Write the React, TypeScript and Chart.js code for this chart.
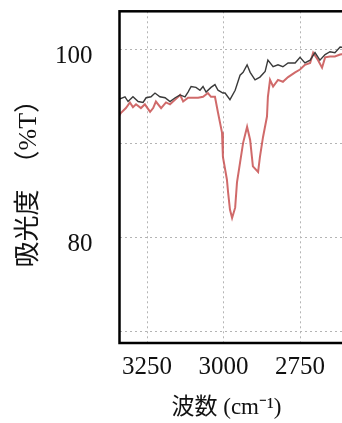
import React, { useEffect, useRef } from "react";
import { Chart, registerables } from "chart.js";

Chart.register(...registerables);

// Wavenumber (cm-1) and transmittance (%T)
const blackWavenumbers = [3345, 3322, 3312, 3296, 3279, 3263, 3253, 3237, 3224, 3208, 3191, 3175, 3158, 3142, 3126, 3116, 3106, 3090, 3077, 3067, 3057, 3041, 3028, 3018, 3002, 2995, 2979, 2962, 2946, 2936, 2923, 2913, 2897, 2881, 2864, 2855, 2838, 2822, 2806, 2789, 2766, 2750, 2734, 2717, 2701, 2685, 2668, 2652, 2636, 2619, 2600];
const blackValues = [94.7, 95.0, 94.5, 95.0, 94.5, 94.4, 94.9, 95.0, 95.4, 95.0, 94.9, 94.5, 94.9, 95.2, 95.0, 95.5, 96.1, 96.0, 95.7, 96.1, 95.5, 96.0, 96.3, 95.7, 95.4, 95.4, 94.7, 95.7, 97.3, 97.6, 98.4, 97.6, 96.8, 97.1, 97.7, 98.9, 98.2, 98.4, 98.2, 98.6, 98.6, 99.2, 98.6, 98.9, 99.7, 98.9, 99.5, 99.8, 99.7, 100.3, 100.2];

const redWavenumbers = [3345, 3335, 3319, 3306, 3296, 3286, 3270, 3257, 3240, 3230, 3221, 3204, 3188, 3175, 3158, 3142, 3132, 3116, 3100, 3083, 3067, 3051, 3041, 3028, 3018, 3005, 3002, 2989, 2985, 2979, 2972, 2962, 2956, 2946, 2936, 2923, 2913, 2904, 2887, 2881, 2871, 2858, 2855, 2848, 2838, 2822, 2806, 2789, 2766, 2750, 2734, 2717, 2707, 2691, 2678, 2668, 2652, 2636, 2619, 2600];
const redValues = [92.8, 93.3, 93.8, 94.4, 93.9, 94.2, 93.8, 94.2, 93.4, 93.8, 94.5, 93.8, 94.4, 94.2, 94.7, 95.2, 94.5, 94.9, 94.9, 94.9, 95.0, 95.4, 95.0, 95.0, 93.3, 91.2, 88.6, 86.2, 84.8, 83.0, 82.1, 83.2, 85.9, 88.0, 90.1, 91.8, 90.4, 87.6, 87.0, 88.6, 90.7, 92.9, 95.0, 96.8, 96.1, 96.8, 96.6, 97.1, 97.6, 97.9, 98.4, 98.6, 99.7, 98.9, 98.1, 99.2, 99.3, 99.3, 99.5, 99.6];

const xTicks = [2750, 3000, 3250];
const yGrid = [70, 80, 90, 100];
const yLabels = [80, 100];

const xTitle = "波数 (cm⁻¹)\u2002";
const yTitle = "吸光度　（%T）";

const FONT = "'Liberation Serif', 'Noto Sans CJK JP', serif";

const framePlugin = {
  id: "frame",
  afterDraw(chart: any) {
    const { ctx, chartArea } = chart;
    ctx.save();
    ctx.strokeStyle = "#000";
    ctx.lineWidth = 2.5;
    ctx.strokeRect(chartArea.left, chartArea.top, chartArea.right - chartArea.left, chartArea.bottom - chartArea.top);
    ctx.restore();
  },
};

const bgPlugin = {
  id: "bg",
  beforeDraw(chart: any) {
    const { ctx } = chart;
    ctx.save();
    ctx.fillStyle = "#fff";
    ctx.fillRect(0, 0, chart.width, chart.height);
    ctx.restore();
  },
};

const noPad = (s: any) => {
  s.paddingTop = 0;
  s.paddingBottom = 0;
  s.paddingLeft = 0;
  s.paddingRight = 0;
};

export default function App() {
  const ref = useRef<HTMLCanvasElement>(null);
  useEffect(() => {
    if (!ref.current) return;
    const chart = new Chart(ref.current, {
      type: "line",
      data: {
        datasets: [
          {
            label: "sample",
            data: blackWavenumbers.map((x, i) => ({ x, y: blackValues[i] })),
            borderColor: "#3a3a3a",
            borderWidth: 1.4,
            pointRadius: 0,
            tension: 0,
          },
          {
            label: "reference",
            data: redWavenumbers.map((x, i) => ({ x, y: redValues[i] })),
            borderColor: "rgba(200,80,80,0.85)",
            borderWidth: 2,
            pointRadius: 0,
            tension: 0,
          },
        ],
      },
      options: {
        responsive: false,
        animation: false,
        layout: { padding: { top: 11.3, right: 3, left: 0, bottom: 0 } },
        plugins: { legend: { display: false }, tooltip: { enabled: false } },
        scales: {
          x: {
            type: "linear",
            reverse: true,
            min: 2603,
            max: 3340,
            afterBuildTicks: (s: any) => {
              s.ticks = xTicks.map((v) => ({ value: v }));
            },
            afterFit: (s: any) => {
              s.height = 80;
              noPad(s);
            },
            grid: { color: "#b4b4b4", lineWidth: 1, drawTicks: false },
            border: { display: false, dash: [2, 3] },
            ticks: {
              color: "#111",
              font: { family: FONT, size: 25 },
              padding: 9,
              maxRotation: 0,
              callback: (v: any) => String(v),
            },
            title: {
              display: true,
              text: xTitle,
              color: "#111",
              font: { family: FONT, size: 23 },
              padding: { top: 0, bottom: 1 },
            },
          },
          y: {
            type: "linear",
            min: 68.8,
            max: 104.1,
            afterBuildTicks: (s: any) => {
              s.ticks = yGrid.map((v) => ({ value: v }));
            },
            afterFit: (s: any) => {
              s.width = 119.5;
              noPad(s);
            },
            grid: { color: "#b4b4b4", lineWidth: 1, drawTicks: false },
            border: { display: false, dash: [2, 3] },
            ticks: {
              color: "#111",
              font: { family: FONT, size: 25 },
              padding: 27,
              labelOffset: 7,
              callback: (v: any) => (yLabels.includes(Number(v)) ? String(v) : ""),
            },
            title: {
              display: true,
              text: yTitle,
              color: "#111",
              font: { family: FONT, size: 26 },
              padding: { top: 14, bottom: 0 },
            },
          },
        },
      },
      plugins: [bgPlugin, framePlugin],
    });
    return () => chart.destroy();
  }, []);
  return (
    <div style={{ position: "fixed", left: 0, top: 0, width: 342, height: 423, overflow: "hidden", background: "#fff" }}>
      <canvas ref={ref} width={348} height={423} style={{ display: "block", width: 348, height: 423 }} />
    </div>
  );
}
